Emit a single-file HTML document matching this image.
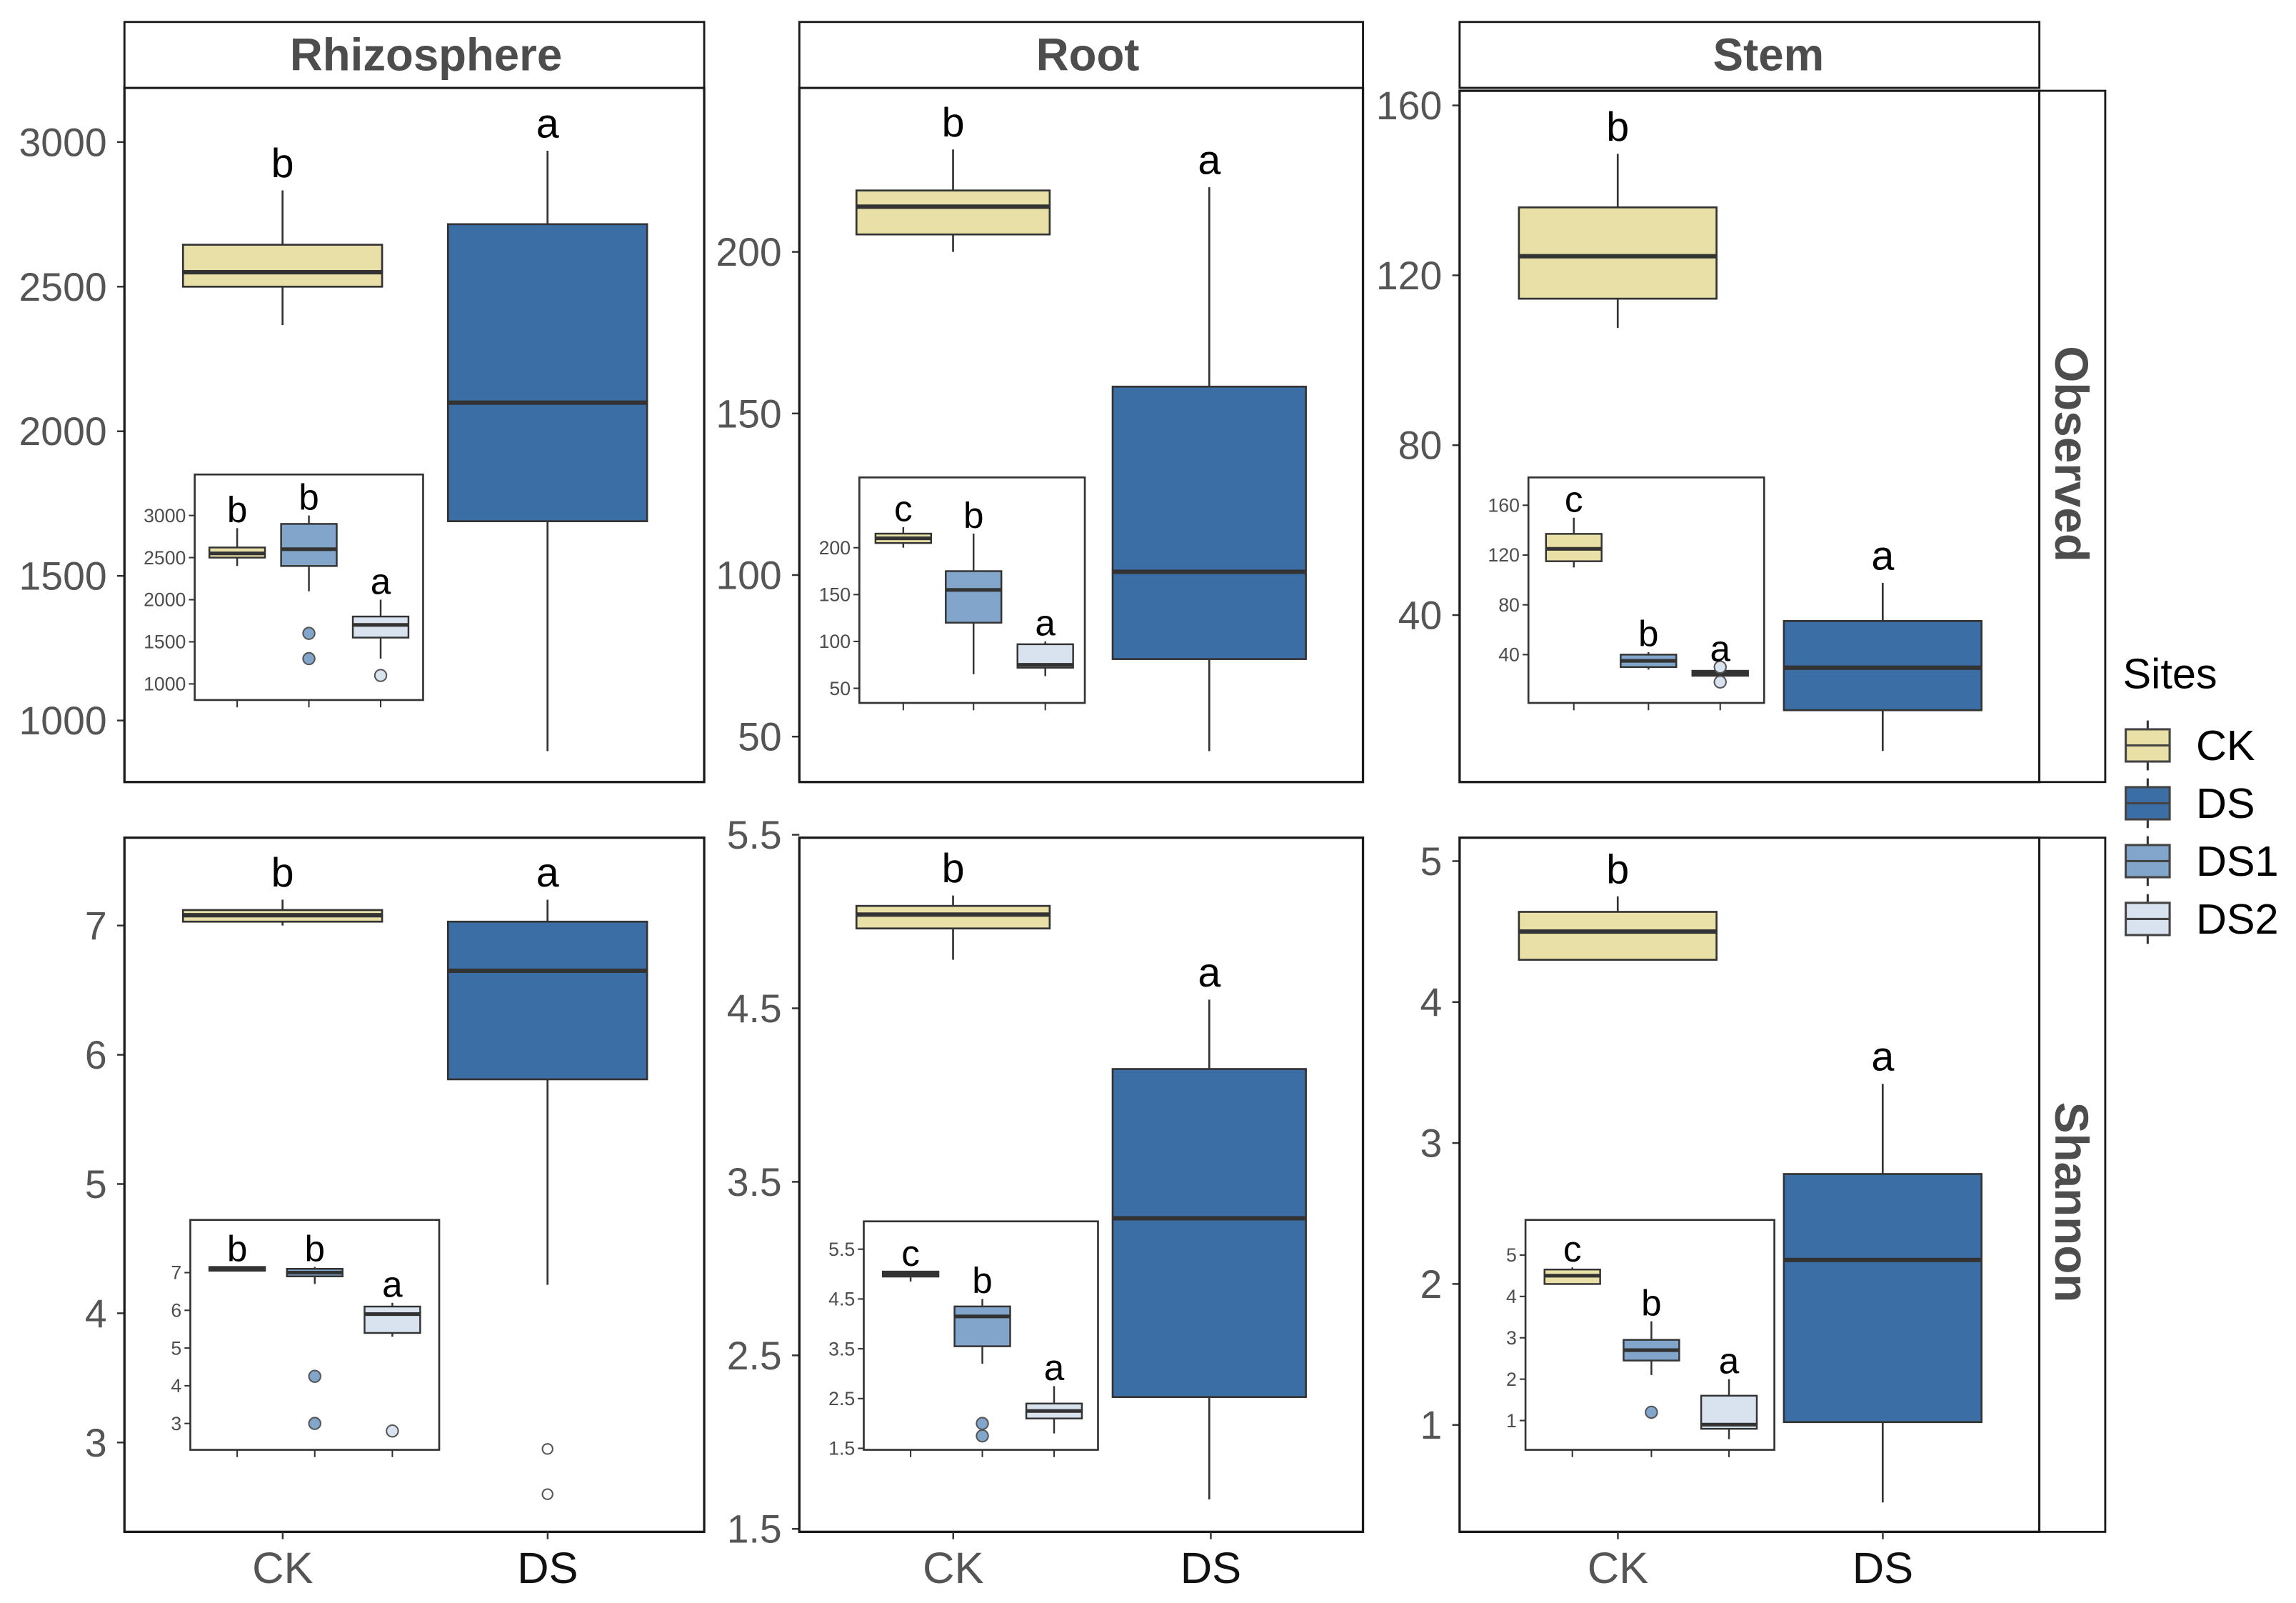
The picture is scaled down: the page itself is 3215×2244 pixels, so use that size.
<!DOCTYPE html>
<html><head><meta charset="utf-8"><style>
html,body{margin:0;padding:0;background:#fff}
svg{display:block}
text{font-family:"Liberation Sans",Arial,sans-serif}
</style></head><body>
<svg id="chart" xmlns="http://www.w3.org/2000/svg" width="3215" height="2244" viewBox="0 0 1568.3 1094.6" preserveAspectRatio="none">
<rect width="1568.3" height="1094.6" fill="#fff"/>
<g id="root"></g>
</svg>
<script>
// ---- data: boxes are [whiskerLow, q1, median, q3, whiskerHigh] ----
const mainGroups=["CK","DS"];
const insetGroups=["CK","DS1","DS2"];
const rhizObsTicks=[1000,1500,2000,2500,3000];
const rhizObsBoxes=[[2367,2500,2550,2645,2833],[894,1689,2099,2716,2970]];
const rhizObsLetters=["b","a"];
const rhizObsOut=[[],[]];
const rhizObsInTicks=[1000,1500,2000,2500,3000];
const rhizObsInBoxes=[[2400,2500,2550,2620,2850],[2100,2400,2600,2900,3000],[1300,1550,1700,1800,2000]];
const rhizObsInOut=[[],[1600,1300],[1100]];
const rhizObsInLetters=["b","b","a"];

const rootObsTicks=[50,100,150,200];
const rootObsBoxes=[[200,205.4,214,219,231.7],[45.5,74,101,158.3,220]];
const rootObsLetters=["b","a"];
const rootObsOut=[[],[]];
const rootObsInTicks=[50,100,150,200];
const rootObsInBoxes=[[200,205,210,215,222],[65,120,155,175,215],[63,72,75,97,100]];
const rootObsInOut=[[],[],[]];
const rootObsInLetters=["c","b","a"];

const stemObsTicks=[40,80,120,160];
const stemObsBoxes=[[107.6,114.5,124.5,136,148.6],[8,17.6,27.6,38.6,47.6]];
const stemObsLetters=["b","a"];
const stemObsOut=[[],[]];
const stemObsInTicks=[40,80,120,160];
const stemObsInBoxes=[[110,115,125,137,150],[28,30,35,40,42],[20,23,25,27,28]];
const stemObsInOut=[[],[],[30,18]];
const stemObsInLetters=["c","b","a"];

const rhizShaTicks=[3,4,5,6,7];
const rhizShaBoxes=[[7.0,7.03,7.08,7.12,7.2],[4.22,5.81,6.65,7.03,7.2]];
const rhizShaLetters=["b","a"];
const rhizShaOut=[[],[2.95,2.6]];
const rhizShaInTicks=[3,4,5,6,7];
const rhizShaInBoxes=[[7.05,7.05,7.1,7.15,7.15],[6.7,6.9,7.0,7.1,7.15],[5.3,5.4,5.9,6.1,6.2]];
const rhizShaInOut=[[],[4.25,3.0],[2.8]];
const rhizShaInLetters=["b","b","a"];

const rootShaTicks=[1.5,2.5,3.5,4.5,5.5];
const rootShaBoxes=[[4.78,4.96,5.04,5.09,5.15],[1.67,2.26,3.29,4.15,4.55]];
const rootShaLetters=["b","a"];
const rootShaOut=[[],[]];
const rootShaInTicks=[1.5,2.5,3.5,4.5,5.5];
const rootShaInBoxes=[[4.85,4.95,5.0,5.05,5.05],[3.2,3.55,4.15,4.35,4.5],[1.8,2.1,2.25,2.4,2.75]];
const rootShaInOut=[[],[2.0,1.75],[]];
const rootShaInLetters=["c","b","a"];

const stemShaTicks=[1,2,3,4,5];
const stemShaBoxes=[[4.3,4.3,4.5,4.64,4.75],[0.45,1.02,2.17,2.78,3.42]];
const stemShaLetters=["b","a"];
const stemShaOut=[[],[]];
const stemShaInTicks=[1,2,3,4,5];
const stemShaInBoxes=[[4.3,4.3,4.5,4.65,4.7],[2.1,2.45,2.7,2.95,3.4],[0.55,0.8,0.9,1.6,2.0]];
const stemShaInOut=[[],[1.2],[]];
const stemShaInLetters=["c","b","a"];

const colors={CK:"#e8e0a6",DS:"#3c6ea6",DS1:"#82a6cb",DS2:"#d9e3ef"};
const NS="http://www.w3.org/2000/svg";
const root=document.getElementById('root');
function mk(tag,attrs,parent){const e=document.createElementNS(NS,tag);for(const k in attrs)e.setAttribute(k,attrs[k]);(parent||root).appendChild(e);return e;}
function txt(s,attrs,parent){const e=mk('text',attrs,parent);e.textContent=s;return e;}

function lin(vA,pA,vB,pB){return v=>pA+(v-vA)*(pB-pA)/(vB-vA);}

function drawBoxes(g,groups,boxes,outs,letters,xs,w,y,opt){
  boxes.forEach((b,i)=>{
    const x=xs[i],col=colors[groups[i]];
    const bg=mk('g',{},g);
    
    
    mk('line',{x1:x,x2:x,y1:y(b[0]),y2:y(b[4]),stroke:'#333','stroke-width':opt.lw},bg);
    mk('rect',{x:x-w/2,y:y(b[3]),width:w,height:Math.max(1,y(b[1])-y(b[3])),fill:col,stroke:'#333','stroke-width':opt.lw},bg);
    mk('line',{x1:x-w/2,x2:x+w/2,y1:y(b[2]),y2:y(b[2]),stroke:'#333','stroke-width':opt.mw},bg);
    outs[i].forEach(o=>{const c=mk('circle',{cx:x,cy:y(o),r:opt.or,fill:opt.main?'#fff':col,stroke:'#555','stroke-width':1},bg);
      });
    const topY=Math.min(y(b[4]),...outs[i].map(o=>y(o)));
    const t=txt(letters[i],{x:x,y:topY-opt.lg,'font-size':opt.fs,'text-anchor':'middle',fill:'#000'},g);
    
  });
}

function panel(P){
  const g=mk('g',{});
  
  
  const y=lin(P.cal[0],P.cal[1],P.cal[2],P.cal[3]);
  const ax=mk('g',{},g);
  
  P.ticks.forEach(t=>{
    mk('line',{x1:P.x0-5,x2:P.x0,y1:y(t),y2:y(t),stroke:'#333','stroke-width':1.2},ax);
    const l=txt(String(t),{x:P.x0-12,y:y(t)+9.5,'font-size':27,'text-anchor':'end',fill:'#555'},ax);
    
  });
  drawBoxes(g,mainGroups,P.boxes,P.outs,P.letters,P.xs,P.w,y,{lw:1.3,mw:3,or:3.5,lg:9,fs:28,main:true});
  mk('rect',{x:P.x0,y:P.y0,width:P.x1-P.x0,height:P.y1-P.y0,fill:'none',stroke:'#1a1a1a','stroke-width':1.6},g);
  const I=P.inset;
  const ig=mk('g',{},g);
  
  const yi=lin(I.cal[0],I.cal[1],I.cal[2],I.cal[3]);
  mk('rect',{x:I.x0,y:I.y0,width:I.x1-I.x0,height:I.y1-I.y0,fill:'#fff',stroke:'#333','stroke-width':1.3},ig);
  I.ticks.forEach(t=>{
    mk('line',{x1:I.x0-4,x2:I.x0,y1:yi(t),y2:yi(t),stroke:'#333','stroke-width':1},ig);
    const l=txt(String(t),{x:I.x0-6,y:yi(t)+4.5,'font-size':13,'text-anchor':'end',fill:'#4d4d4d'},ig);
    
  });
  I.xs.forEach(x=>mk('line',{x1:x,x2:x,y1:I.y1,y2:I.y1+5,stroke:'#333','stroke-width':1},ig));
  drawBoxes(ig,insetGroups,I.boxes,I.outs,I.letters,I.xs,38,yi,{lw:1.2,mw:2.5,or:4,lg:4,fs:25,main:false});
  return g;
}

const panels=[
 {name:'rhizosphere-observed',x0:85,x1:481,y0:60,y1:534,cal:[3000,97,1000,492],ticks:rhizObsTicks,boxes:rhizObsBoxes,outs:rhizObsOut,letters:rhizObsLetters,xs:[193,374],w:136,
  inset:{x0:133,x1:289,y0:324,y1:478,cal:[3000,352,1000,467],ticks:rhizObsInTicks,boxes:rhizObsInBoxes,outs:rhizObsInOut,letters:rhizObsInLetters,xs:[162,211,260]}},
 {name:'root-observed',x0:546,x1:931,y0:60,y1:534,cal:[200,172,50,503],ticks:rootObsTicks,boxes:rootObsBoxes,outs:rootObsOut,letters:rootObsLetters,xs:[651,826],w:132,
  inset:{x0:587,x1:741,y0:326,y1:480,cal:[200,374,50,470],ticks:rootObsInTicks,boxes:rootObsInBoxes,outs:rootObsInOut,letters:rootObsInLetters,xs:[617,665,714]}},
 {name:'stem-observed',x0:997,x1:1393,y0:62,y1:534,cal:[160,72,40,420],ticks:stemObsTicks,boxes:stemObsBoxes,outs:stemObsOut,letters:stemObsLetters,xs:[1105,1286],w:135,
  inset:{x0:1044,x1:1205,y0:326,y1:480,cal:[160,345,40,447],ticks:stemObsInTicks,boxes:stemObsInBoxes,outs:stemObsInOut,letters:stemObsInLetters,xs:[1075,1126,1175]}},
 {name:'rhizosphere-shannon',x0:85,x1:481,y0:572,y1:1046,cal:[7,632,3,985],ticks:rhizShaTicks,boxes:rhizShaBoxes,outs:rhizShaOut,letters:rhizShaLetters,xs:[193,374],w:136,
  inset:{x0:130,x1:300,y0:833,y1:990,cal:[7,869,3,972],ticks:rhizShaInTicks,boxes:rhizShaInBoxes,outs:rhizShaInOut,letters:rhizShaInLetters,xs:[162,215,268]}},
 {name:'root-shannon',x0:546,x1:931,y0:572,y1:1046,cal:[5.5,570,1.5,1044],ticks:rootShaTicks,boxes:rootShaBoxes,outs:rootShaOut,letters:rootShaLetters,xs:[651,826],w:132,
  inset:{x0:590,x1:750,y0:834,y1:990,cal:[5.5,853,1.5,989],ticks:rootShaInTicks,boxes:rootShaInBoxes,outs:rootShaInOut,letters:rootShaInLetters,xs:[622,671,720]}},
 {name:'stem-shannon',x0:997,x1:1393,y0:572,y1:1046,cal:[5,588,1,973],ticks:stemShaTicks,boxes:stemShaBoxes,outs:stemShaOut,letters:stemShaLetters,xs:[1105,1286],w:135,
  inset:{x0:1042,x1:1212,y0:833,y1:990,cal:[5,857,1,970],ticks:stemShaInTicks,boxes:stemShaInBoxes,outs:stemShaInOut,letters:stemShaInLetters,xs:[1074,1128,1181]}}
];
panels.forEach(panel);

const colStrips=[["Rhizosphere",85,481,291],["Root",546,931,743],["Stem",997,1393,1208]];
colStrips.forEach(s=>{
  const g=mk('g',{});
  
  mk('rect',{x:s[1],y:15,width:s[2]-s[1],height:45,fill:'#fff',stroke:'#1a1a1a','stroke-width':1.4},g);
  txt(s[0],{x:s[3],y:48,'font-size':31,'font-weight':'bold','text-anchor':'middle',fill:'#4d4d4d'},g);
  const cx=[s[1]+(s[2]-s[1])*0.273,s[1]+(s[2]-s[1])*0.73];
  mainGroups.forEach((gname,i)=>{
    mk('line',{x1:cx[i],x2:cx[i],y1:1046,y2:1051,stroke:'#333','stroke-width':1.2});
    const t=txt(gname,{x:cx[i],y:1081,'font-size':30,'text-anchor':'middle',fill:gname==='CK'?'#555':'#111'});
    
  });
});
[["Observed",62,534],["Shannon",572,1046]].forEach(s=>{
  const g=mk('g',{});
  
  mk('rect',{x:1393,y:s[1],width:45,height:s[2]-s[1],fill:'#fff',stroke:'#1a1a1a','stroke-width':1.4},g);
  const cy=(s[1]+s[2])/2+12;
  txt(s[0],{x:1404,y:cy,'font-size':32,'font-weight':'bold','text-anchor':'middle',fill:'#4d4d4d',transform:`rotate(90 1404 ${cy})`},g);
});
const lg=mk('g',{});

txt('Sites',{x:1450,y:470,'font-size':29,fill:'#000'},lg);
["CK","DS","DS1","DS2"].forEach((k,i)=>{
  const cy=509+i*39.5;
  const e=mk('g',{},lg);
  
  mk('line',{x1:1467,x2:1467,y1:cy-17,y2:cy+17,stroke:'#333','stroke-width':1.5},e);
  mk('rect',{x:1452,y:cy-11,width:30,height:22,fill:colors[k],stroke:'#444','stroke-width':1.5},e);
  mk('line',{x1:1452,x2:1482,y1:cy,y2:cy,stroke:'#444','stroke-width':1.5},e);
  txt(k,{x:1500,y:cy+10,'font-size':29,fill:'#000'},e);
});
</script>
</body></html>
